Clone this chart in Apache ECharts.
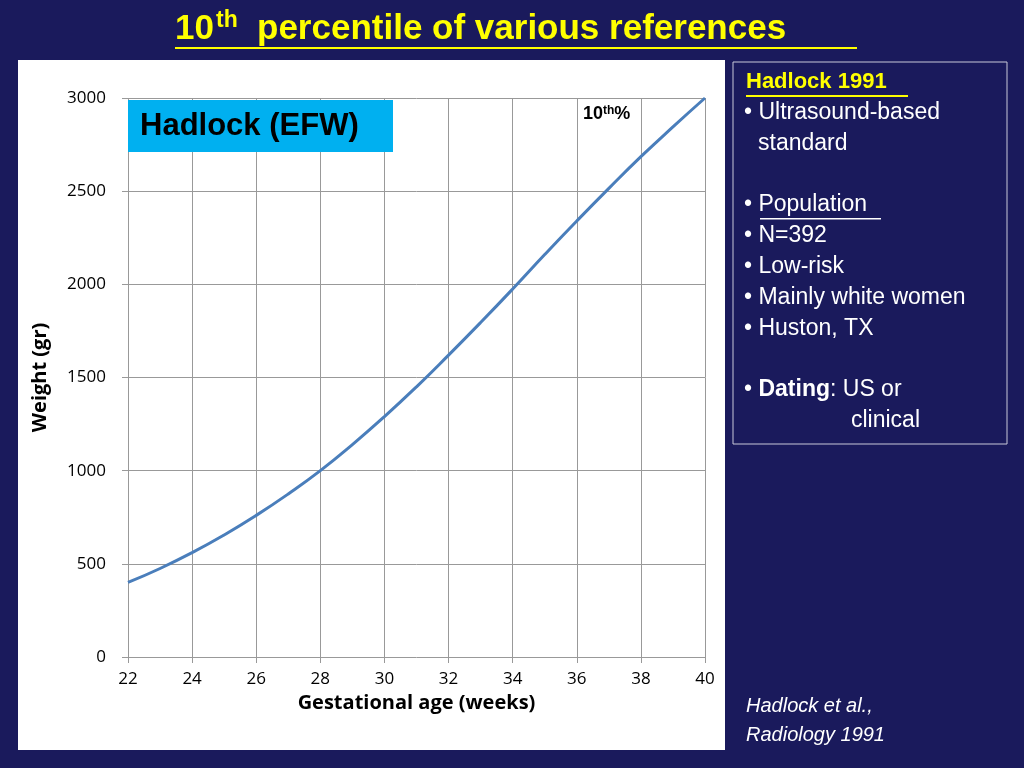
<!DOCTYPE html>
<html><head><meta charset="utf-8">
<script src="https://cdn.jsdelivr.net/npm/echarts@6/dist/echarts.min.js"></script>
<style>html,body{margin:0;padding:0;background:#1a1a5c}#c{width:1024px;height:768px}</style>
</head><body><div id="c"></div>
<script>
const weeks = [22,23,24,25,26,27,28,29,30,31,32,33,34,35,36,37,38,39,40];
const p10 = [400,475,560,655,760,875,1000,1140,1290,1450,1620,1795,1975,2160,2340,2515,2685,2845,3000];
const xTicks = [22,24,26,28,30,32,34,36,38,40];
const chart = echarts.init(document.getElementById('c'));
const W = '#ffffff', F = '"Liberation Sans", Arial, sans-serif';
const bul = (t, x, y, extra) => ({type:'text', left:x, top:y, style:Object.assign({text:t, fill:W, font:'23px '+F}, extra||{})});
chart.setOption({
  backgroundColor:'#1a1a5c',
  graphic:[
    {type:'rect', shape:{x:18,y:60,width:707,height:690}, style:{fill:'#fff'}, z:-10},
    {type:'text', left:175, top:12, style:{text:'10', fill:'#ffff00', font:'bold 35px '+F}},
    {type:'text', left:216, top:9, style:{text:'th', fill:'#ffff00', font:'bold 23px '+F}},
    {type:'text', left:257, top:12, style:{text:'percentile of various references', fill:'#ffff00', font:'bold 35px '+F}},
    {type:'rect', shape:{x:175,y:47,width:682,height:2}, style:{fill:'#ffff00'}},
    {type:'rect', shape:{x:733,y:62,width:274,height:382}, style:{fill:'none', stroke:'#c8c8d8', lineWidth:1}},
    {type:'text', left:746, top:71, style:{text:'Hadlock 1991', fill:'#ffff00', font:'bold 22px '+F}},
    {type:'rect', shape:{x:746,y:95,width:162,height:2}, style:{fill:'#ffff00'}},
    bul('• Ultrasound-based',744,101), bul('standard',758,132),
    bul('• Population',744,193), {type:'rect', shape:{x:760,y:218,width:121,height:1.5}, style:{fill:W}},
    bul('• N=392',744,224), bul('• Low-risk',744,255), bul('• Mainly white women',744,286), bul('• Huston, TX',744,317),
    {type:'text', left:744, top:378, style:{rich:{a:{fill:W,font:'23px '+F},b:{fill:W,font:'bold 23px '+F}}, text:'{a|• }{b|Dating}{a|: US or}'}},
    bul('clinical',851,409),
    {type:'text', left:746, top:692, style:{text:'Hadlock et al.,\nRadiology 1991', fill:W, font:'italic 20px '+F, lineHeight:29}},
    {type:'rect', shape:{x:128,y:100,width:265,height:52}, style:{fill:'#00b0f0'}, z:100},
    {type:'text', left:140, top:111, style:{text:'Hadlock (EFW)', fill:'#000', font:'bold 31px '+F}, z:101},
    {type:'text', left:583, top:105, style:{rich:{a:{fill:'#000',font:'bold 18px '+F},b:{fill:'#000',font:'bold 12px '+F,verticalAlign:'top'}}, text:'{a|10}{b|th}{a|%}'}, z:101}
  ],
  grid:{left:128, right:319, top:98, bottom:111},
  xAxis:{type:'value', min:22, max:40, interval:2, name:'Gestational age (weeks)', nameLocation:'middle', nameGap:34,
    nameTextStyle:{color:'#000', fontWeight:'bold', fontSize:20, fontFamily:'Open Sans'},
    axisLine:{show:false}, axisTick:{show:true, length:6, lineStyle:{color:'#999'}},
    axisLabel:{color:'#000', fontSize:17, margin:14, fontFamily:'Open Sans', formatter:v=>xTicks.includes(v)?String(v):''},
    splitLine:{show:true, lineStyle:{color:'#999', width:1}}},
  yAxis:{type:'value', min:0, max:3000, interval:500, name:'Weight (gr)', nameLocation:'middle', nameGap:78,
    nameTextStyle:{color:'#000', fontWeight:'bold', fontSize:20, fontFamily:'Open Sans'},
    axisLine:{show:false}, axisTick:{show:true, length:6, lineStyle:{color:'#999'}},
    axisLabel:{color:'#000', fontSize:17, margin:22, fontFamily:'Open Sans', formatter:v=>String(v)},
    splitLine:{show:true, lineStyle:{color:'#999', width:1}}},
  series:[{type:'line', data:weeks.map((w,i)=>[w,p10[i]]), smooth:true, showSymbol:false,
    lineStyle:{color:'#4a7ebb', width:3}}]
});
</script></body></html>
